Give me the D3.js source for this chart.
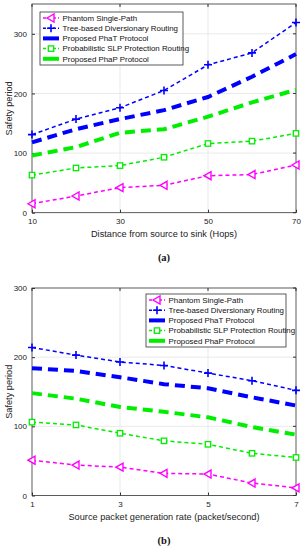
<!DOCTYPE html>
<html>
<head>
<meta charset="utf-8">
<script src="https://cdn.jsdelivr.net/npm/d3@7"></script>
<style>
  body { margin: 0; background: #fff; }
  svg { display: block; font-family: "Liberation Sans", Arial, sans-serif; }
</style>
</head>
<body>
<svg id="fig"></svg>
<script>
// Safety period vs. hops (a) and vs. packet rate (b)

const seriesNames = [
    "Phantom Single-Path",
    "Tree-based Diversionary Routing",
    "Proposed  PhaT Protocol",
    "Probabilistic SLP Protection Routing",
    "Proposed  PhaP Protocol"
];

// (a) distance from source to sink
const hops = [10, 20, 30, 40, 50, 60, 70];
const hopTicks = [10, 30, 50, 70];
const phantomA = [15, 28, 42, 46, 62, 64, 80];
const treeA = [131, 157, 176, 205, 248, 268, 319];
const phatA = [118, 140, 157, 172, 194, 228, 266];
const slpA = [63, 75, 79, 93, 116, 120, 133];
const phapA = [96, 110, 134, 140, 161, 185, 206];

// (b) source packet generation rate
const rates = [1, 2, 3, 4, 5, 6, 7];
const rateTicks = [1, 3, 5, 7];
const phantomB = [51, 44, 41, 32, 31, 18, 11];
const treeB = [214, 203, 193, 188, 177, 166, 152];
const phatB = [184, 180, 171, 161, 155, 142, 130];
const slpB = [106, 102, 90, 79, 74, 61, 55];
const phapB = [148, 140, 128, 121, 113, 99, 88];

const yTicks = [0, 100, 200, 300];

const W = 305, H = 550;
const svg = d3.select("#fig").attr("width", W).attr("height", H);
svg.append("rect").attr("width", W).attr("height", H).attr("fill", "#fff");

const styles = [
    { color: "#ff00ff", width: 1.5, dash: "4,3", marker: "tri" },
    { color: "#0000ff", width: 1.5, dash: "4,3", marker: "plus" },
    { color: "#0000ff", width: 4, dash: "10,6", marker: null },
    { color: "#00ee00", width: 1.5, dash: "4,3", marker: "square" },
    { color: "#00ee00", width: 4, dash: "10,6", marker: null }
];

function drawMarker(g, type, x, y, color) {
    if (type === "tri") {
        g.append("path")
            .attr("d", `M${x - 4},${y} L${x + 3},${y - 4} L${x + 3},${y + 4} Z`)
            .attr("fill", "#fff").attr("stroke", color).attr("stroke-width", 1.4);
    } else if (type === "plus") {
        g.append("path")
            .attr("d", `M${x - 4},${y} H${x + 4} M${x},${y - 4} V${y + 4}`)
            .attr("stroke", color).attr("stroke-width", 1.6);
    } else if (type === "square") {
        g.append("rect")
            .attr("x", x - 2.7).attr("y", y - 2.7).attr("width", 5.4).attr("height", 5.4)
            .attr("fill", "#fff").attr("stroke", color).attr("stroke-width", 1.3);
    }
}

function drawChart(cfg) {
    const x = d3.scaleLinear().domain(cfg.xDomain).range([32, 296]);
    const y = d3.scaleLinear().domain(cfg.yDomain).range([cfg.bottom, cfg.top]);
    const g = svg.append("g");

    // grid
    g.selectAll(".vg").data(cfg.xTicks.slice(1, -1)).join("line")
        .attr("x1", d => x(d)).attr("x2", d => x(d))
        .attr("y1", cfg.top).attr("y2", cfg.bottom)
        .attr("stroke", "#e3e3e3").attr("stroke-width", 0.8);
    g.selectAll(".hg").data(yTicks.filter(d => d > 0 && y(d) > cfg.top + 1)).join("line")
        .attr("x1", 32).attr("x2", 296)
        .attr("y1", d => y(d)).attr("y2", d => y(d))
        .attr("stroke", "#e3e3e3").attr("stroke-width", 0.8);

    // axes
    const xAxis = g.append("g")
        .attr("transform", `translate(0,${cfg.bottom})`)
        .call(d3.axisBottom(x).tickValues(cfg.xTicks).tickFormat(d3.format("d"))
            .tickSize(-3).tickPadding(6));
    const yAxis = g.append("g")
        .attr("transform", "translate(32,0)")
        .call(d3.axisLeft(y).tickValues(yTicks).tickFormat(d3.format("d"))
            .tickSize(-3).tickPadding(5));
    [xAxis, yAxis].forEach(a => {
        a.select(".domain").remove();
        a.selectAll("line").attr("stroke", "#333");
        a.selectAll("text").attr("font-size", 8).attr("fill", "#222")
            .attr("font-family", "Liberation Sans, Arial, sans-serif");
    });
    // top / right ticks
    g.selectAll(".tt").data(cfg.xTicks).join("line")
        .attr("x1", d => x(d)).attr("x2", d => x(d))
        .attr("y1", cfg.top).attr("y2", cfg.top + 3).attr("stroke", "#333");
    g.selectAll(".rt").data(yTicks.filter(d => y(d) >= cfg.top)).join("line")
        .attr("x1", 293).attr("x2", 296)
        .attr("y1", d => y(d)).attr("y2", d => y(d)).attr("stroke", "#333");
    g.append("rect")
        .attr("x", 32).attr("y", cfg.top).attr("width", 264).attr("height", cfg.bottom - cfg.top)
        .attr("fill", "none").attr("stroke", "#333").attr("stroke-width", 0.8);

    // series
    const line = d3.line().x((d, i) => x(cfg.xs[i])).y(d => y(d));
    cfg.series.forEach((vals, k) => {
        const s = styles[k];
        g.append("path").datum(vals)
            .attr("d", line)
            .attr("fill", "none")
            .attr("stroke", s.color)
            .attr("stroke-width", s.width)
            .attr("stroke-dasharray", s.dash);
        if (s.marker) {
            vals.forEach((v, i) => drawMarker(g, s.marker, x(cfg.xs[i]), y(v), s.color));
        }
    });

    // legend
    const L = cfg.legend;
    const lg = g.append("g").attr("transform", `translate(${L.x},${L.y})`);
    lg.append("rect").attr("width", L.w).attr("height", 53)
        .attr("fill", "#fff").attr("stroke", "#333").attr("stroke-width", 0.8);
    seriesNames.forEach((name, k) => {
        const s = styles[k];
        const ly = 6 + k * 10.2;
        lg.append("line")
            .attr("x1", 3).attr("x2", 19).attr("y1", ly).attr("y2", ly)
            .attr("stroke", s.color).attr("stroke-width", s.width)
            .attr("stroke-dasharray", s.marker ? "3,2" : null);
        if (s.marker) drawMarker(lg, s.marker, 11, ly, s.color);
        lg.append("text").attr("x", 22.5).attr("y", ly + 2.8)
            .attr("font-size", 7.9).attr("fill", "#111").text(name);
    });

    // labels
    g.append("text")
        .attr("transform", `translate(12,${(cfg.top + cfg.bottom) / 2}) rotate(-90)`)
        .attr("text-anchor", "middle").attr("font-size", 9.2).attr("fill", "#222")
        .text("Safety period");
    g.append("text")
        .attr("x", 164).attr("y", cfg.bottom + 24)
        .attr("text-anchor", "middle").attr("font-size", 9.2).attr("fill", "#222")
        .text(cfg.xLabel);
    g.append("text")
        .attr("x", 164).attr("y", cfg.bottom + 48)
        .attr("text-anchor", "middle").attr("font-size", 10.5).attr("font-weight", "bold")
        .attr("font-family", "Liberation Serif, serif").attr("fill", "#111")
        .text(cfg.tag);
}

drawChart({
    xDomain: [10, 70], xTicks: hopTicks, xs: hops,
    yDomain: [0, 350], top: 4, bottom: 212.7,
    series: [phantomA, treeA, phatA, slpA, phapA],
    legend: { x: 40, y: 12, w: 143 },
    xLabel: "Distance from source to sink (Hops)", tag: "(a)"
});

drawChart({
    xDomain: [1, 7], xTicks: rateTicks, xs: rates,
    yDomain: [0, 300], top: 288, bottom: 495.5,
    series: [phantomB, treeB, phatB, slpB, phapB],
    legend: { x: 146, y: 294, w: 140 },
    xLabel: "Source packet generation rate (packet/second)", tag: "(b)"
});
</script>
</body>
</html>
